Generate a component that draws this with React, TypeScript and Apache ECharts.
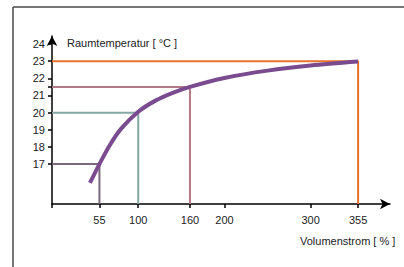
import React, { useEffect, useRef } from "react";
import * as echarts from "echarts";

const xTicks = [0, 55, 100, 160, 200, 300, 355];
const xLabels = [55, 100, 160, 200, 300, 355];
const yTicks = [17, 18, 19, 20, 21, 21.5, 22, 23, 24];
const yLabels = [17, 18, 19, 20, 21, 22, 23, 24];

const curve: [number, number][] = [
  [44, 15.9], [55, 17], [67, 18.1], [80, 19.05], [100, 20.05], [120, 20.7],
  [140, 21.15], [160, 21.5], [200, 22.02], [250, 22.45], [300, 22.75], [355, 22.98],
];

const guideX = [55, 100, 160, 355];
const guideY = [17, 20, 21.5, 23];
const guideColors = ["#7a6779", "#85a8a5", "#b27a87", "#e8732a"];

const Y_MIN = 14.67;
const Y_MAX = 24.47;
const X_MAX = 392;

export default function App() {
  const ref = useRef<HTMLDivElement>(null);
  useEffect(() => {
    if (!ref.current) return;
    const chart = echarts.init(ref.current, null, { renderer: "svg" });
    const font = "Liberation Sans, Arial, sans-serif";
    const guides = guideX.map((gx, i) => ({
      type: "line",
      data: [[0, guideY[i]], [gx, guideY[i]], [gx, Y_MIN]],
      symbol: "none",
      lineStyle: { color: guideColors[i], width: 2 },
      z: 2,
    }));
    chart.setOption({
      animation: false,
      grid: { left: 52, right: 14, top: 36, bottom: 63 },
      xAxis: {
        type: "value",
        min: 0,
        max: X_MAX,
        axisLine: { lineStyle: { color: "#000", width: 1.5 }, symbol: ["none", "arrow"], symbolSize: [8, 10] },
        axisTick: { show: true, length: 4, customValues: xTicks, lineStyle: { color: "#000", width: 1.5 } },
        axisLabel: { customValues: xLabels, color: "#222", fontSize: 11, fontFamily: font, margin: 10 },
        splitLine: { show: false },
      },
      yAxis: {
        type: "value",
        min: Y_MIN,
        max: Y_MAX,
        axisLine: { show: true, lineStyle: { color: "#000", width: 1.5 }, symbol: ["none", "arrow"], symbolSize: [8, 10] },
        axisTick: { show: true, length: 4, customValues: yTicks, lineStyle: { color: "#000", width: 1.5 } },
        axisLabel: { customValues: yLabels, color: "#222", fontSize: 11, fontFamily: font, margin: 7 },
        splitLine: { show: false },
      },
      graphic: [
        { type: "line", shape: { x1: 13, y1: 7, x2: 404, y2: 7 }, style: { stroke: "#4a4a4a", lineWidth: 1.5 } },
        { type: "line", shape: { x1: 13, y1: 7, x2: 13, y2: 267 }, style: { stroke: "#4a4a4a", lineWidth: 1.5 } },
        { type: "text", left: 67, top: 37, style: { text: "Raumtemperatur [ °C ]", fill: "#222", fontSize: 11, fontFamily: font } },
        { type: "text", left: 300, top: 235, style: { text: "Volumenstrom [ % ]", fill: "#222", fontSize: 11, fontFamily: font } },
      ],
      series: [
        ...guides,
        {
          type: "line",
          data: curve,
          smooth: 0.3,
          symbol: "none",
          lineStyle: { color: "#7a4b8f", width: 4 },
          z: 3,
        },
      ],
    });
    return () => chart.dispose();
  }, []);
  return <div ref={ref} style={{ position: "fixed", left: 0, top: 0, width: 404, height: 267, background: "#fff" }} />;
}
